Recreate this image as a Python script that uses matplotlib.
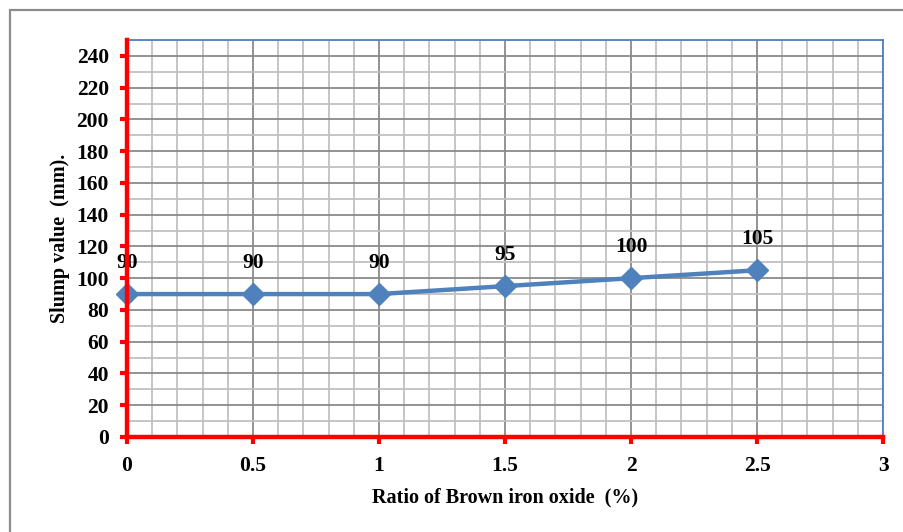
import matplotlib.pyplot as plt
import numpy as np
from matplotlib.patches import Rectangle
from matplotlib.ticker import MultipleLocator

plt.rcParams['font.family'] = ['Liberation Serif', 'DejaVu Serif']
plt.rcParams['font.weight'] = 'bold'

# slump test results
ratio = [0, 0.5, 1, 1.5, 2, 2.5]
slump = [90, 90, 90, 95, 100, 105]
xticks = [0, 0.5, 1, 1.5, 2, 2.5, 3]
xticklabels = ['0', '0.5', '1', '1.5', '2', '2.5', '3']

blue = '#4F81BD'
red = '#FF0000'

fig = plt.figure(figsize=(9.04, 5.32), dpi=100)
ax = fig.add_axes([0.1405, 0.1786, 0.8363, 0.7462])

# grey frame around the chart
fig.patches.append(Rectangle((10/904, -0.1), 1.2, 1 - 10/532 + 0.1,
                             transform=fig.transFigure, fill=False,
                             edgecolor='#8C8C8C', linewidth=1.6))

ax.plot(ratio, slump, color=blue, linewidth=3.2, marker='D', markersize=11,
        markerfacecolor=blue, markeredgecolor=blue, zorder=5, clip_on=False)

for x, y in zip(ratio, slump):
    ax.annotate(str(y), (x, y), xytext=(0, 15), textcoords='offset points',
                ha='center', va='bottom', fontsize=15.5, fontweight='bold')

ax.set_xlim(0, 3)
ax.set_ylim(0, 250)
ax.set_xticks(xticks)
ax.set_xticklabels(xticklabels)
ax.xaxis.set_minor_locator(MultipleLocator(0.1))
ax.set_yticks(np.arange(0, 241, 20))
ax.yaxis.set_minor_locator(MultipleLocator(10))

ax.grid(which='major', color='#8A8A8A', linewidth=1.3, zorder=0)
ax.grid(which='minor', color='#C0C0C0', linewidth=1.3, zorder=0)
ax.set_axisbelow(True)

for side in ['left', 'bottom']:
    ax.spines[side].set_color(red)
    ax.spines[side].set_linewidth(3.2)
    ax.spines[side].set_zorder(6)
for side in ['top', 'right']:
    ax.spines[side].set_color(blue)
    ax.spines[side].set_linewidth(1.3)

ax.tick_params(which='major', direction='out', length=5, width=3, color=red,
               labelsize=15.5)
ax.tick_params(axis='y', pad=8)
ax.tick_params(axis='x', pad=9)
ax.tick_params(which='minor', length=0)
for lbl in ax.get_xticklabels() + ax.get_yticklabels():
    lbl.set_fontweight('bold')

ax.set_xlabel('Ratio of Brown iron oxide  (%)', fontsize=14.5, fontweight='bold',
              labelpad=8)
ax.set_ylabel('Slump value  (mm).', fontsize=14.5, fontweight='bold', labelpad=5)

fig.savefig('out.png', dpi=100)
